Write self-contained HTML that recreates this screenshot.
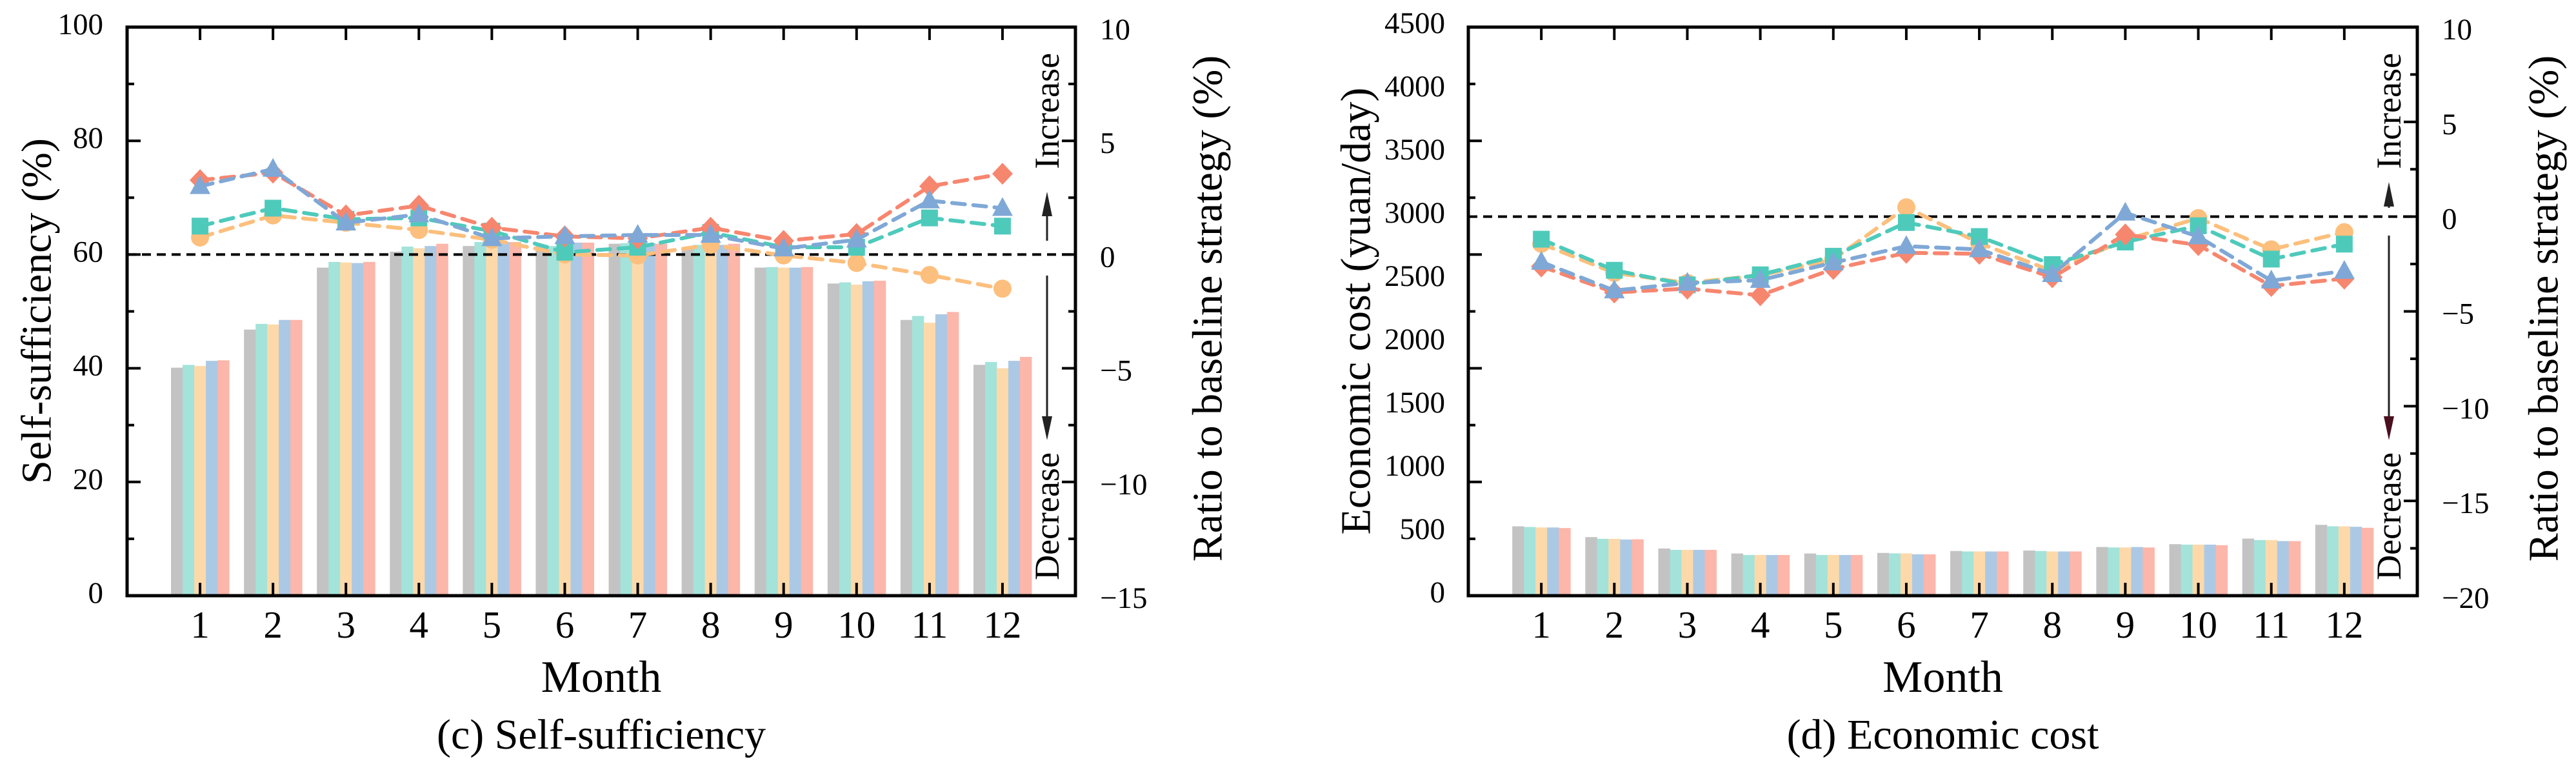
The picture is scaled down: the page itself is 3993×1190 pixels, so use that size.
<!DOCTYPE html>
<html><head><meta charset="utf-8"><style>
html,body{margin:0;padding:0;background:#fff;}
svg{display:block;}
text{font-family:"Liberation Serif",serif;fill:#000;}
</style></head><body>
<svg id="fig" width="3993" height="1190" viewBox="0 0 3993 1190" xmlns="http://www.w3.org/2000/svg"></svg>
<script>
const months = [1,2,3,4,5,6,7,8,9,10,11,12];
const seriesNames = ["baseline","strategy-1","strategy-2","strategy-3","strategy-4"];
// Chart (c) self-sufficiency bars (%)
const ssBaseline = [40.1,46.8,57.7,60.5,61.5,61.7,61.9,61.1,57.7,54.9,48.5,40.6];
const ssS1 = [40.6,47.8,58.7,61.4,62.2,61.5,62.0,61.7,57.8,55.1,49.2,41.1];
const ssS2 = [40.4,47.7,58.6,61.1,62.0,61.0,61.3,62.2,57.7,54.7,48.0,40.0];
const ssS3 = [41.3,48.5,58.5,61.5,62.2,62.1,62.0,61.7,57.7,55.3,49.5,41.3];
const ssS4 = [41.4,48.5,58.7,61.9,62.2,62.1,61.9,61.9,57.8,55.4,49.9,42.0];
// Chart (c) ratio lines (%)
const ssRatioS1 = [1.25,2.04,1.55,1.61,1.03,0.1,0.32,0.97,0.32,0.32,1.61,1.25];
const ssRatioS2 = [0.75,1.72,1.4,1.08,0.65,0.0,-0.04,0.43,-0.04,-0.37,-0.9,-1.5];
const ssRatioS3 = [3.0,3.76,1.4,1.76,0.71,0.8,0.86,0.86,0.26,0.65,2.37,2.04];
const ssRatioS4 = [3.27,3.6,1.72,2.15,1.18,0.8,0.71,1.18,0.6,0.9,3.0,3.55];
const ssLeftTicks = ["0","20","40","60","80","100"];
const ssRightTicks = ["-15","-10","-5","0","5","10"];
// Chart (d) economic cost bars (yuan/day)
const ecBaseline = [610,515,415,371,371,376,393,397,428,453,502,623];
const ecS1 = [604,500,403,358,358,372,389,393,424,449,489,610];
const ecS2 = [600,500,403,358,358,372,389,389,424,449,489,610];
const ecS3 = [600,494,403,358,358,364,389,389,428,449,480,606];
const ecS4 = [595,496,403,358,358,364,389,389,424,444,480,597];
// Chart (d) ratio lines (%)
const ecRatioS1 = [-1.19,-2.83,-3.6,-3.07,-2.09,-0.31,-1.05,-2.53,-1.34,-0.48,-2.24,-1.45];
const ecRatioS2 = [-1.43,-2.97,-3.5,-3.1,-2.25,0.49,-1.4,-2.87,-1.23,-0.08,-1.73,-0.82];
const ecRatioS3 = [-2.39,-3.9,-3.5,-3.35,-2.43,-1.56,-1.73,-3.04,0.2,-1.05,-3.38,-2.87];
const ecRatioS4 = [-2.63,-4.0,-3.8,-4.15,-2.76,-1.91,-1.96,-3.2,-0.94,-1.5,-3.66,-3.27];
const ecLeftTicks = ["0","500","1000","1500","2000","2500","3000","3500","4000","4500"];
const ecRightTicks = ["-20","-15","-10","-5","0","5","10"];

const NS = "http://www.w3.org/2000/svg";
const fig = document.getElementById("fig");
const barColors = ["#c3c3c3","#a3e3da","#fdd9aa","#abc9e5","#fdb6aa"];
const lineColors = {s1:"#4ecabb", s2:"#fcbf7d", s3:"#7fa8d6", s4:"#f7866f"};

function el(tag, attrs, parent){
  const e = document.createElementNS(NS, tag);
  for (const k in attrs) e.setAttribute(k, attrs[k]);
  (parent||fig).appendChild(e);
  return e;
}
function txt(s, attrs, parent){ const t = el("text", attrs, parent); t.textContent = s; return t; }

function drawChart(cfg){
  const g = el("g", {});
  
  
  const L=cfg.left, R=cfg.right, T=42, B=923;
  const xScale = m => L + (R-L)*m/13;
  const yL = v => B - (v - cfg.lmin)/(cfg.lmax - cfg.lmin)*(B-T);
  const yR = v => B - (v - cfg.rmin)/(cfg.rmax - cfg.rmin)*(B-T);
  const bw = 18;
  cfg.bars.forEach((arr, si) => {
    arr.forEach((v, i) => {
      const cx = xScale(months[i]);
      const r = el("rect", {x: cx - 2.5*bw + si*bw, y: yL(v), width: bw+0.5, height: yL(cfg.lmin) - yL(v), fill: barColors[si]}, g);
      
      
    });
  });
  const zl = el("line", {x1:L, x2:R, y1:yR(0), y2:yR(0), stroke:"#000", "stroke-width":4, "stroke-dasharray":"14 9"}, g);
  
  
  const order = [["s2",cfg.lines[1],"circle"],["s1",cfg.lines[0],"square"],["s4",cfg.lines[3],"diamond"],["s3",cfg.lines[2],"triangle"]];
  order.forEach(([key, arr, mk]) => {
    const pts = arr.map((v,i)=> [xScale(months[i]), yR(v)]);
    const pl = el("polyline", {points: pts.map(p=>p.join(",")).join(" "), fill:"none", stroke: lineColors[key], "stroke-width":6, "stroke-dasharray":"20 13", "stroke-linecap":"round"}, g);
    
    
    pts.forEach((p,i) => {
      let m;
      const [x,y] = p;
      if (mk==="circle") m = el("circle", {cx:x, cy:y, r:14, fill:lineColors[key]}, g);
      else if (mk==="square") m = el("rect", {x:x-13, y:y-13, width:26, height:26, fill:lineColors[key]}, g);
      else if (mk==="triangle") m = el("polygon", {points:`${x},${y-17} ${x-16},${y+12} ${x+16},${y+12}`, fill:lineColors[key]}, g);
      else m = el("polygon", {points:`${x},${y-17} ${x+16},${y} ${x},${y+17} ${x-16},${y}`, fill:lineColors[key]}, g);
      
      
    });
  });
  const fr = el("rect", {x:L, y:T, width:R-L, height:B-T, fill:"none", stroke:"#000", "stroke-width":5}, g);
  
  
  months.forEach(m => {
    const x = xScale(m);
    el("line", {x1:x, x2:x, y1:B, y2:B-20, stroke:"#000","stroke-width":4}, g);
    el("line", {x1:x, x2:x, y1:T, y2:T+20, stroke:"#000","stroke-width":4}, g);
    const t = txt(String(m), {x:x, y:988, "text-anchor":"middle", "font-size":59}, g);
    
    
  });
  for (let v = cfg.lmin; v <= cfg.lmax + 1e-9; v += cfg.lminor) {
    const major = Math.abs(((v - cfg.lmin) / cfg.lmajor) - Math.round((v - cfg.lmin)/cfg.lmajor)) < 1e-6;
    el("line", {x1:L, x2:L+(major?21:11), y1:yL(v), y2:yL(v), stroke:"#000","stroke-width":4}, g);
  }
  cfg.lticks.forEach((s, i) => {
    const y = cfg.lLabelY(i, s);
    const t = txt(s, {x:cfg.lLabelX, y:y, "text-anchor":"end", "dominant-baseline":"central", "font-size":47}, g);
    
    
  });
  for (let v = cfg.rmin; v <= cfg.rmax + 1e-9; v += 2.5) {
    const major = Math.abs(v/5 - Math.round(v/5)) < 1e-6;
    el("line", {x1:R, x2:R-(major?21:11), y1:yR(v), y2:yR(v), stroke:"#000","stroke-width":4}, g);
  }
  cfg.rticks.forEach(s => {
    const t = txt(s.replace("-","\u2212"), {x:R+38, y:yR(parseFloat(s))+4, "dominant-baseline":"central", "font-size":47}, g);
    
    
  });
  const ax = R - 44;
  el("line", {x1:ax, x2:ax, y1:cfg.upStart, y2:cfg.upTip+30, stroke:"#222","stroke-width":3}, g);
  el("polygon", {points:`${ax},${cfg.upTip} ${ax-8},${cfg.upTip+38} ${ax+8},${cfg.upTip+38}`, fill:"#222"}, g);
  el("line", {x1:ax, x2:ax, y1:cfg.downStart, y2:650, stroke:"#222","stroke-width":3}, g);
  el("polygon", {points:`${ax},682 ${ax-8},645 ${ax+8},645`, fill: cfg.downColor}, g);
  const inc = txt("Increase", {x:0, y:0, "text-anchor":"middle", "dominant-baseline":"central", "font-size":54, transform:`translate(${ax},172) rotate(-90)`}, g);
  
  
  const dec = txt("Decrease", {x:0, y:0, "text-anchor":"middle", "dominant-baseline":"central", "font-size":54, transform:`translate(${ax},800) rotate(-90)`}, g);
  
  
  const lt = txt(cfg.ltitle, {x:0,y:0,"text-anchor":"middle","dominant-baseline":"central","font-size":66, transform:`translate(${cfg.ltitleX},482) rotate(-90)`}, g);
  
  
  const rt = txt("Ratio to baseline strategy  (%)", {x:0,y:0,"text-anchor":"middle","dominant-baseline":"central","font-size":66, transform:`translate(${cfg.rtitleX},478) rotate(-90)`}, g);
  
  
  const xt = txt("Month", {x:(L+R)/2, y:1072, "text-anchor":"middle", "font-size":70}, g);
  
  
  const cap = txt(cfg.caption, {x:(L+R)/2, y:1160, "text-anchor":"middle", "font-size":66}, g);
  
  
}

drawChart({
  name:"self-sufficiency-chart", left:197, right:1667, lmin:0, lmax:100, lmajor:20, lminor:10,
  rmin:-15, rmax:10, bars:[ssBaseline,ssS1,ssS2,ssS3,ssS4], lines:[ssRatioS1,ssRatioS2,ssRatioS3,ssRatioS4],
  lticks:ssLeftTicks, rticks:ssRightTicks, lLabelX:160,
  lLabelY:(i,s)=> 923 - parseFloat(s)/100*881 - 4,
  ltitle:"Self-sufficiency  (%)", ltitleX:57, rtitleX:1872, caption:"(c) Self-sufficiency", downColor:"#222",
  upStart:373, upTip:297, downStart:427
});
drawChart({
  name:"economic-cost-chart", left:2276, right:3747, lmin:0, lmax:5000, lmajor:1000, lminor:500,
  rmin:-20, rmax:10, bars:[ecBaseline,ecS1,ecS2,ecS3,ecS4], lines:[ecRatioS1,ecRatioS2,ecRatioS3,ecRatioS4],
  lticks:ecLeftTicks, rticks:ecRightTicks, lLabelX:2240,
  lLabelY:(i,s)=> 918 - 98*i,
  ltitle:"Economic cost  (yuan/day)", ltitleX:2102, rtitleX:3943, caption:"(d) Economic cost", downColor:"#4a1020",
  upStart:322, upTip:282, downStart:365
});
</script>
</body></html>
